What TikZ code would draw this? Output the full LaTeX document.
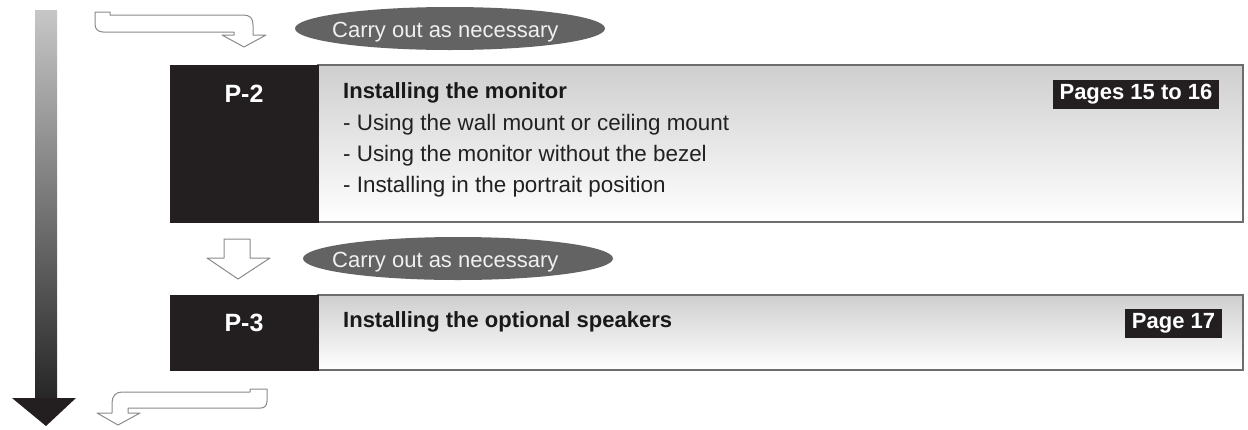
\documentclass[tikz,border=0pt]{standalone}
\usepackage{fontspec}
\setmainfont{Liberation Sans}
\usetikzlibrary{shapes.geometric}
\definecolor{boxblack}{HTML}{231F20}
\definecolor{ellgray}{HTML}{636363}
\definecolor{outl}{HTML}{8A8A8A}
\definecolor{bord}{HTML}{6D6D6D}
\tikzset{
  numbox/.style={rectangle, fill=boxblack, draw=boxblack, minimum width=148pt, inner sep=0pt},
  contbox/.style={rectangle, draw=bord, line width=1.2pt, top color=black!19, bottom color=white, minimum width=925pt, inner sep=0pt},
  numtxt/.style={text=white, font=\bfseries\fontsize{25}{30}\selectfont, inner sep=0pt},
  titletxt/.style={text=black!90, font=\bfseries\fontsize{22}{26}\selectfont, inner sep=0pt},
  bullettxt/.style={text=black!87, font=\fontsize{22.4}{26}\selectfont, inner sep=0pt},
  pagebox/.style={rectangle, fill=boxblack, text=white, font=\bfseries\fontsize{22}{26}\selectfont, inner xsep=7pt, inner ysep=0pt, minimum height=29pt},
  ellbox/.style={ellipse, fill=ellgray, minimum width=310pt, minimum height=43pt, inner sep=0pt},
  elltxt/.style={text=white!94!black, font=\fontsize{22}{26}\selectfont, inner sep=0pt},
  openarrow/.style={draw=outl, line width=1pt, fill=white, line join=round},
}
\begin{document}
\begin{tikzpicture}[x=1pt,y=-1pt]
\useasboundingbox (0,0) rectangle (1248,429);

% big flow arrow on the left
\shade[top color=black!22, bottom color=black!85] (35,10) rectangle (57,398);
\fill[boxblack] (12,398) -- (76,398) -- (46,426) -- cycle;

% top bent open arrow
\draw[openarrow] (95,12) -- (110,12) -- (110,15) -- (243,15)
  .. controls (250,15) and (253,18) .. (253,25) -- (253,35) -- (266,35)
  -- (244,47) -- (222,35) -- (234,35) -- (234,32) -- (103,32)
  .. controls (98,32) and (95,29) .. (95,24) -- cycle;

% first "Carry out as necessary"
\node[ellbox] (ell1) at (450,28.5) {};
\node[elltxt, anchor=base west] (ell1t) at (332,37) {Carry out as necessary};

% P-2 block
\node[contbox, minimum height=157pt] (p2c) at (780.5,143.5) {};
\node[numbox, minimum height=157pt] (p2n) at (244,143.5) {};
\node[numtxt, anchor=base] (p2l) at (244,102) {P-2};
\node[titletxt, anchor=base west] (p2t) at (343,98) {Installing the monitor};
\node[bullettxt, anchor=base west] (p2b1) at (343,130) {- Using the wall mount or ceiling mount};
\node[bullettxt, anchor=base west] (p2b2) at (343,161) {- Using the monitor without the bezel};
\node[bullettxt, anchor=base west] (p2b3) at (343,192) {- Installing in the portrait position};
\node[pagebox] (p2p) at (1136,94) {Pages 15 to 16};

% middle open arrow
\draw[openarrow] (224,239) -- (250,239) -- (250,258) -- (270,258) -- (238,279)
  -- (207,258) -- (224,258) -- cycle;

% second "Carry out as necessary"
\node[ellbox] (ell2) at (458,258.5) {};
\node[elltxt, anchor=base west] (ell2t) at (332,267) {Carry out as necessary};

% P-3 block
\node[contbox, minimum height=75pt] (p3c) at (780.5,332.5) {};
\node[numbox, minimum height=75pt] (p3n) at (244,332.5) {};
\node[numtxt, anchor=base] (p3l) at (244,331) {P-3};
\node[titletxt, anchor=base west] (p3t) at (343,327) {Installing the optional speakers};
\node[pagebox] (p3p) at (1173.5,323) {Page 17};

% bottom bent open arrow
\draw[openarrow] (267,389) -- (250,389) -- (250,392) -- (122,392)
  .. controls (116,392) and (112,396) .. (112,403) -- (112,413) -- (97,413)
  -- (118,425) -- (140,413) -- (128,413) -- (128,408) -- (261,408)
  .. controls (265,408) and (267,405) .. (267,401) -- cycle;
\end{tikzpicture}
\end{document}
